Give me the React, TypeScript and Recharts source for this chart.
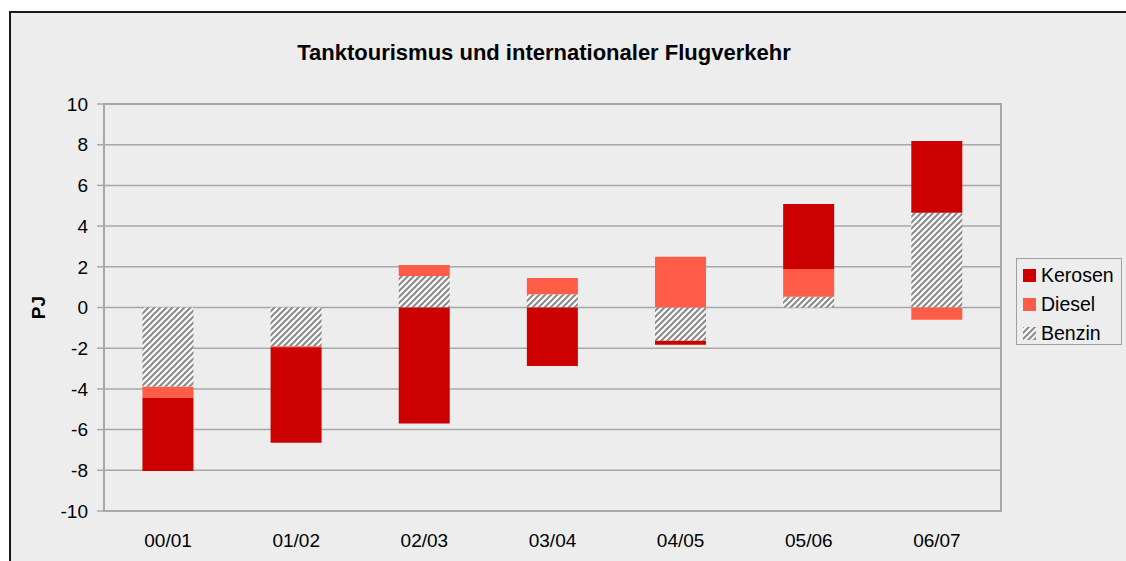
import React from 'react';
import { BarChart, Bar, XAxis, YAxis, CartesianGrid, Legend, ReferenceArea } from 'recharts';

const categories = ['00/01', '01/02', '02/03', '03/04', '04/05', '05/06', '06/07'];
const benzin = [-3.9, -1.9, 1.55, 0.65, -1.63, 0.53, 4.66];
const diesel = [-0.53, -0.05, 0.54, 0.8, 2.5, 1.36, -0.6];
const kerosen = [-3.6, -4.7, -5.7, -2.87, -0.2, 3.2, 3.52];
const yTicks = [-10, -8, -6, -4, -2, 0, 2, 4, 6, 8, 10];

const data = categories.map((c, i) => ({
  name: c,
  Benzin: benzin[i],
  Diesel: diesel[i],
  Kerosen: kerosen[i],
}));

const FONT = '"Liberation Sans", Arial, sans-serif';
const KEROSEN = '#CC0000';
const DIESEL = '#FF5C47';
const GRID = '#A8A8A8';

const HatchDef = ({ id }: { id: string }) => (
  <pattern id={id} patternUnits="userSpaceOnUse" width="6" height="6">
    <rect x="0" y="0" width="6" height="6" fill="#FFFFFF" />
    <path d="M0,6 L6,0 M-1.5,1.5 L1.5,-1.5 M4.5,7.5 L7.5,4.5" stroke="#8C8C8C" strokeWidth="2.2" />
  </pattern>
);

const legendItems = [
  { label: 'Kerosen', fill: KEROSEN },
  { label: 'Diesel', fill: DIESEL },
  { label: 'Benzin', fill: 'url(#hatchLegend)' },
];

const LegendContent = () => (
  <div
    style={{
      width: 104,
      height: 85,
      border: '1.5px solid #A0A0A0',
      position: 'relative',
      fontFamily: FONT,
      fontSize: 19.5,
      color: '#000',
    }}
  >
    <svg width="0" height="0" style={{ position: 'absolute' }}>
      <defs>
        <HatchDef id="hatchLegend" />
      </defs>
    </svg>
    {legendItems.map((it, i) => (
      <div
        key={it.label}
        style={{
          position: 'absolute',
          left: 6,
          top: 4 + i * 29,
          height: 24,
          display: 'flex',
          alignItems: 'center',
          whiteSpace: 'nowrap',
        }}
      >
        <svg width="13" height="13" style={{ marginRight: 5 }}>
          <rect x="0" y="0" width="13" height="13" fill={it.fill} />
        </svg>
        <span>{it.label}</span>
      </div>
    ))}
  </div>
);

export default function App() {
  return (
    <div>
      <style>{`html,body{margin:0;padding:0;overflow:hidden;background:#fff;}`}</style>
      <div
        style={{
          position: 'absolute',
          left: 9,
          top: 11,
          width: 1117,
          height: 550,
          borderTop: '2px solid #1A1A1A',
          borderLeft: '2px solid #1A1A1A',
          background: '#EDEDED',
          fontFamily: FONT,
        }}
      >
        <div
          style={{
            position: 'absolute',
            left: 0,
            top: 29,
            width: 1066,
            textAlign: 'center',
            fontSize: 22,
            lineHeight: '22px',
            fontWeight: 'bold',
            color: '#000',
          }}
        >
          Tanktourismus und internationaler Flugverkehr
        </div>
        <BarChart
          width={1115}
          height={540}
          data={data}
          stackOffset="sign"
          barCategoryGap="30%"
          margin={{ top: 91, right: 125, bottom: 0, left: 0 }}
          style={{ position: 'absolute', left: 0, top: 0 }}
        >
          <defs>
            <HatchDef id="hatchBenzin" />
          </defs>
          <CartesianGrid vertical={false} stroke={GRID} strokeWidth={1.5} />
          <XAxis
            dataKey="name"
            height={42}
            tickLine={false}
            tickSize={0}
            tickMargin={23}
            axisLine={{ stroke: GRID, strokeWidth: 2 }}
            tick={{ fill: '#000', fontSize: 19, fontFamily: FONT }}
          />
          <YAxis
            width={93}
            domain={[-10, 10]}
            ticks={yTicks}
            interval={0}
            tickSize={7}
            tickMargin={9}
            tickLine={{ stroke: GRID, strokeWidth: 1.5 }}
            axisLine={{ stroke: GRID, strokeWidth: 2 }}
            tick={{ fill: '#000', fontSize: 19, fontFamily: FONT }}
            label={{
              value: 'PJ',
              angle: -90,
              position: 'center',
              dx: -19,
              style: { fontWeight: 'bold', fontSize: 19, fill: '#000', fontFamily: FONT },
            }}
          />
          <ReferenceArea y1={-10} y2={10} fill="none" stroke={GRID} strokeWidth={2} ifOverflow="visible" />
          <Legend
            layout="vertical"
            align="center"
            verticalAlign="middle"
            content={<LegendContent />}
            wrapperStyle={{ position: 'absolute', left: 1005, top: 245, width: 107, height: 88 }}
          />
          <Bar dataKey="Benzin" stackId="a" fill="url(#hatchBenzin)" isAnimationActive={false} />
          <Bar dataKey="Diesel" stackId="a" fill={DIESEL} isAnimationActive={false} />
          <Bar dataKey="Kerosen" stackId="a" fill={KEROSEN} isAnimationActive={false} />
        </BarChart>
      </div>
    </div>
  );
}
